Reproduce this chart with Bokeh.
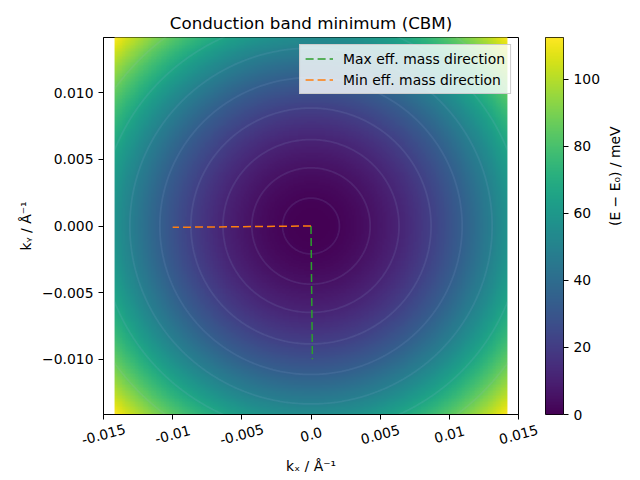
import math
import numpy as np
from bokeh.plotting import figure
from bokeh.layouts import row, column
from bokeh.models import LinearColorMapper, FixedTicker, Range1d, ColumnDataSource
from bokeh.core.properties import value
from bokeh.palettes import Viridis256
from bokeh.embed import file_html
from bokeh.resources import INLINE

# ---- data ----
k_extent = 0.0142                 # half-width of sampled k grid (1/Å)
curv_x = 2.84e5                   # band curvature along kx (meV·Å²), min eff. mass direction
curv_y = 2.73e5                   # band curvature along ky (meV·Å²), max eff. mass direction
e_max = 112.4                     # top of colour scale (meV)
contour_levels = [1.2, 5.2, 11.5, 21.4, 33.9, 48.7, 66.1, 86.2]

max_dir_kx = [0.0, 0.0001]
max_dir_ky = [0.0, -0.0100]
min_dir_kx = [0.0, -0.0100]
min_dir_ky = [0.0, -0.0001]

x_ticks = [-0.015, -0.01, -0.005, 0.0, 0.005, 0.01, 0.015]
x_tick_labels = ["-0.015", "-0.01", "-0.005", "0.0", "0.005", "0.01", "0.015"]
y_ticks = [-0.010, -0.005, 0.0, 0.005, 0.010]
y_tick_labels = ["\u22120.010", "\u22120.005", "0.000", "0.005", "0.010"]
cb_ticks = [0, 20, 40, 60, 80, 100]

FONT = "DejaVu Sans"
TICK_FS = "13.9px"
X_LO, X_HI = -0.015, 0.015
FRAME_W, FRAME_H = 415, 377
BORDER_L, BORDER_T, BORDER_B, BORDER_R = 103, 37, 8, 27
EXT_L = 40                         # extra strip width left of the frame, px
px_x = (X_HI - X_LO) / FRAME_W     # data units per pixel in x

# energy surface on k grid
n = 241
kx = np.linspace(-k_extent, k_extent, n)
ky = np.linspace(-k_extent, k_extent, n)
KX, KY = np.meshgrid(kx, ky)
E = curv_x * KX**2 + curv_y * KY**2

mapper = LinearColorMapper(palette=Viridis256, low=0, high=e_max)

p = figure(frame_width=FRAME_W, frame_height=FRAME_H,
           min_border_left=BORDER_L, min_border_top=BORDER_T, min_border_right=BORDER_R,
           min_border_bottom=BORDER_B,
           x_range=Range1d(X_LO, X_HI), y_range=Range1d(-0.01415, 0.01415),
           output_backend="svg", toolbar_location=None,
           title="Conduction band minimum (CBM)")
p.title.align = "center"
p.title.text_font = FONT
p.title.text_font_size = "16.7px"
p.title.text_font_style = "normal"
p.title.text_color = "black"

p.image(image=[E], x=-k_extent, y=-k_extent, dw=2 * k_extent, dh=2 * k_extent,
        color_mapper=mapper)
p.contour(kx, ky, E, levels=contour_levels, fill_color=None,
          line_color="#9fb4e0", line_alpha=0.12, line_width=1.8)

p.line(max_dir_kx, max_dir_ky, line_color="#2ca02c", line_width=1.5,
       line_dash="8 4", legend_label="Max eff. mass direction")
p.line(min_dir_kx, min_dir_ky, line_color="#ff7f0e", line_width=1.5,
       line_dash="8 4", legend_label="Min eff. mass direction")

p.grid.visible = False
p.outline_line_color = "black"
p.outline_line_width = 1
p.background_fill_color = "white"

for ax in (p.xaxis[0], p.yaxis[0]):
    ax.major_tick_out = 5
    ax.major_tick_in = 0
    ax.minor_tick_out = 0
    ax.minor_tick_in = 0
    ax.axis_line_color = "black"
    ax.major_label_text_font = FONT
    ax.major_label_text_font_size = TICK_FS
    ax.major_label_text_color = "black"
    ax.axis_label_text_font = FONT
    ax.axis_label_text_font_size = TICK_FS
    ax.axis_label_text_font_style = "normal"
    ax.axis_label_text_color = "black"

# x axis: ticks only here; rotated, centred labels are drawn in the strip below
p.xaxis.ticker = FixedTicker(ticks=x_ticks)
p.xaxis.major_label_overrides = {t: "" for t in x_ticks}
p.xaxis.major_label_text_font_size = "1px"
p.xaxis.major_label_standoff = 0

p.yaxis.ticker = FixedTicker(ticks=y_ticks)
p.yaxis.major_label_overrides = {t: s for t, s in zip(y_ticks, y_tick_labels)}
p.yaxis.axis_label = "k\u1d67 / \u00c5\u207b\u00b9"

lg = p.legend[0]
lg.location = "top_right"
lg.margin = 7
lg.padding = 5
lg.spacing = 4
lg.label_text_font = FONT
lg.label_text_font_size = TICK_FS
lg.label_text_color = "black"
lg.glyph_width = 28
lg.glyph_height = 17
lg.label_standoff = 10
lg.background_fill_alpha = 0.8
lg.border_line_color = "#cccccc"
lg.border_line_alpha = 1.0

# ---- strip below the plot holding x tick labels and x axis label ----
STRIP_H = 50
tf = figure(frame_width=EXT_L + FRAME_W + BORDER_R, frame_height=STRIP_H,
            min_border_left=BORDER_L - EXT_L, min_border_top=0, min_border_right=0,
            min_border_bottom=0,
            x_range=Range1d(X_LO - EXT_L * px_x, X_HI + BORDER_R * px_x),
            y_range=Range1d(STRIP_H, 0),
            x_axis_location=None, y_axis_location=None,
            output_backend="svg", toolbar_location=None)
tf.grid.visible = False
tf.outline_line_color = None
tick_src = ColumnDataSource(dict(x=x_ticks, text=x_tick_labels, y=[12] * len(x_ticks)))
tf.text(x="x", y="y", text="text", source=tick_src, angle=math.radians(15),
        text_align="center", text_baseline="middle",
        text_font=value(FONT), text_font_size=value(TICK_FS), text_color="black")
tf.text(x=[0.0], y=[43], text=["k\u2093 / \u00c5\u207b\u00b9"],
        text_align="center", text_baseline="middle",
        text_font=value(FONT), text_font_size=value(TICK_FS), text_color="black")

# ---- colour bar as its own small figure ----
ramp = np.linspace(0, e_max, 256).reshape(256, 1)
cb = figure(frame_width=18, frame_height=FRAME_H,
            min_border_left=0, min_border_top=BORDER_T, min_border_right=69,
            min_border_bottom=BORDER_B,
            x_range=Range1d(0, 1), y_range=Range1d(0, e_max),
            y_axis_location="right", output_backend="svg", toolbar_location=None)
cb.image(image=[ramp], x=0, y=0, dw=1, dh=e_max, color_mapper=mapper)
cb.xaxis.visible = False
cb.grid.visible = False
cb.outline_line_color = "black"
yax = cb.yaxis[0]
yax.ticker = FixedTicker(ticks=cb_ticks)
yax.major_tick_out = 5
yax.major_tick_in = 0
yax.minor_tick_out = 0
yax.minor_tick_in = 0
yax.axis_line_color = None
yax.major_label_text_font = FONT
yax.major_label_text_font_size = TICK_FS
yax.major_label_text_color = "black"
yax.axis_label = "(E \u2212 E\u2080) / meV"
yax.axis_label_text_font = FONT
yax.axis_label_text_font_size = TICK_FS
yax.axis_label_text_font_style = "normal"
yax.axis_label_text_color = "black"
yax.axis_label_standoff = 12
if hasattr(yax, "axis_label_orientation"):
    yax.axis_label_orientation = math.pi / 2

for fig in (p, tf, cb):
    if hasattr(fig, "frame_align"):
        fig.frame_align = False

layout = row(column(p, tf), cb)
open("out.html", "w").write(file_html(layout, INLINE))
